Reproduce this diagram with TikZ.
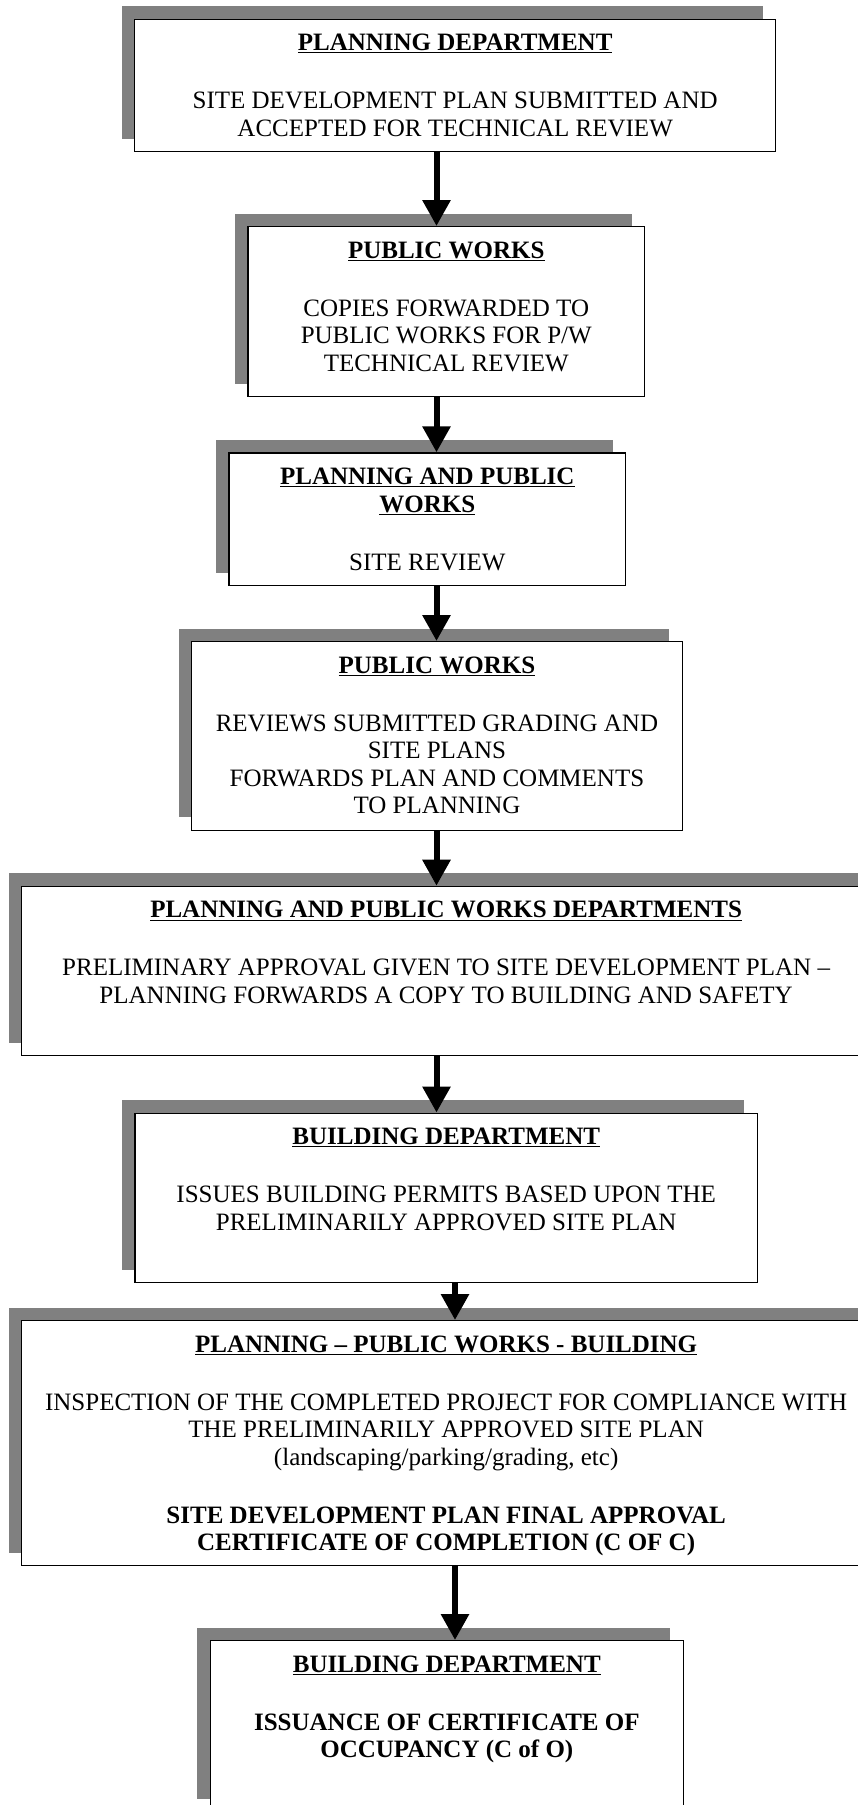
\documentclass[tikz,border=0pt]{standalone}
\usepackage{fontspec}
\setmainfont{Liberation Serif}
\usepackage{tikz}
\usetikzlibrary{arrows.meta,positioning,shadows}

\newcommand{\stagehead}[1]{\underline{\textbf{#1}}}

\tikzset{
  stage/.style={draw=black, line width=1.3pt, fill=white, anchor=north west, inner sep=0pt,
    drop shadow={shadow xshift=-13pt, shadow yshift=13pt, fill=gray, opacity=1}},
  stagetext/.style={align=center, inner sep=0pt, font=\fontsize{25}{27.5}\selectfont},
  flow/.style={line width=6pt, -{Triangle[width=27pt,length=26pt]}}
}

\begin{document}
\begin{tikzpicture}[x=1pt,y=-1pt]
\useasboundingbox (0,0) rectangle (857,1805);

% boxes
\node[stage, minimum width=641pt, minimum height=132.5pt] (b1) at (134,18.5) {};
\node[stage, minimum width=396.7pt, minimum height=170pt] (b2) at (247.3,226) {};
\node[stage, minimum width=396.7pt, minimum height=132.7pt] (b3) at (228.3,452.3) {};
\node[stage, minimum width=490.6pt, minimum height=188.5pt] (b4) at (191,641) {};
\node[stage, minimum width=849pt, minimum height=169.3pt] (b5) at (21,885.7) {};
\node[stage, minimum width=622.4pt, minimum height=169.5pt] (b6) at (134.4,1112.5) {};
\node[stage, minimum width=849pt, minimum height=245pt] (b7) at (21,1320) {};
\node[stage, minimum width=473pt, minimum height=171pt] (b8) at (209.7,1640) {};

% texts
\node[stagetext, below=15.5pt of b1.north] (t1) {\stagehead{PLANNING DEPARTMENT}\\[30.5pt]
  SITE DEVELOPMENT PLAN SUBMITTED AND\\ ACCEPTED FOR TECHNICAL REVIEW};
\node[stagetext, below=15.5pt of b2.north] (t2) {\stagehead{PUBLIC WORKS}\\[30.5pt]
  COPIES FORWARDED TO\\ PUBLIC WORKS FOR P/W\\ TECHNICAL REVIEW};
\node[stagetext, below=15.5pt of b3.north] (t3) {\stagehead{PLANNING AND PUBLIC}\\
  \stagehead{WORKS}\\[30.5pt] SITE REVIEW};
\node[stagetext, below=15.5pt of b4.north] (t4) {\stagehead{PUBLIC WORKS}\\[30.5pt]
  REVIEWS SUBMITTED GRADING AND\\ SITE PLANS\\ FORWARDS PLAN AND COMMENTS\\ TO PLANNING};
\node[stagetext, below=15.5pt of b5.north] (t5) {\stagehead{PLANNING AND PUBLIC WORKS DEPARTMENTS}\\[30.5pt]
  PRELIMINARY APPROVAL GIVEN TO SITE DEVELOPMENT PLAN --\\
  PLANNING FORWARDS A COPY TO BUILDING AND SAFETY};
\node[stagetext, below=15.5pt of b6.north] (t6) {\stagehead{BUILDING DEPARTMENT}\\[30.5pt]
  ISSUES BUILDING PERMITS BASED UPON THE\\ PRELIMINARILY APPROVED SITE PLAN};
\node[stagetext, below=15.5pt of b7.north] (t7) {\stagehead{PLANNING -- PUBLIC WORKS - BUILDING}\\[30.5pt]
  INSPECTION OF THE COMPLETED PROJECT FOR COMPLIANCE WITH\\
  THE PRELIMINARILY APPROVED SITE PLAN\\ (landscaping/parking/grading, etc)\\[30.5pt]
  \textbf{SITE DEVELOPMENT PLAN FINAL APPROVAL}\\ \textbf{CERTIFICATE OF COMPLETION (C OF C)}};
\node[stagetext, below=15.5pt of b8.north] (t8) {\stagehead{BUILDING DEPARTMENT}\\[30.5pt]
  \textbf{ISSUANCE OF CERTIFICATE OF}\\ \textbf{OCCUPANCY (C of O)}};

% arrows
\coordinate (colA) at (436.5,0);
\coordinate (colB) at (455,0);
\draw[flow] (b1.south -| colA) -- (b2.north -| colA);
\draw[flow] (b2.south -| colA) -- (b3.north -| colA);
\draw[flow] (b3.south -| colA) -- (b4.north -| colA);
\draw[flow] (b4.south -| colA) -- (b5.north -| colA);
\draw[flow] (b5.south -| colA) -- (b6.north -| colA);
\draw[flow] (b6.south -| colB) -- (b7.north -| colB);
\draw[flow] (b7.south -| colB) -- (b8.north -| colB);
\end{tikzpicture}
\end{document}
